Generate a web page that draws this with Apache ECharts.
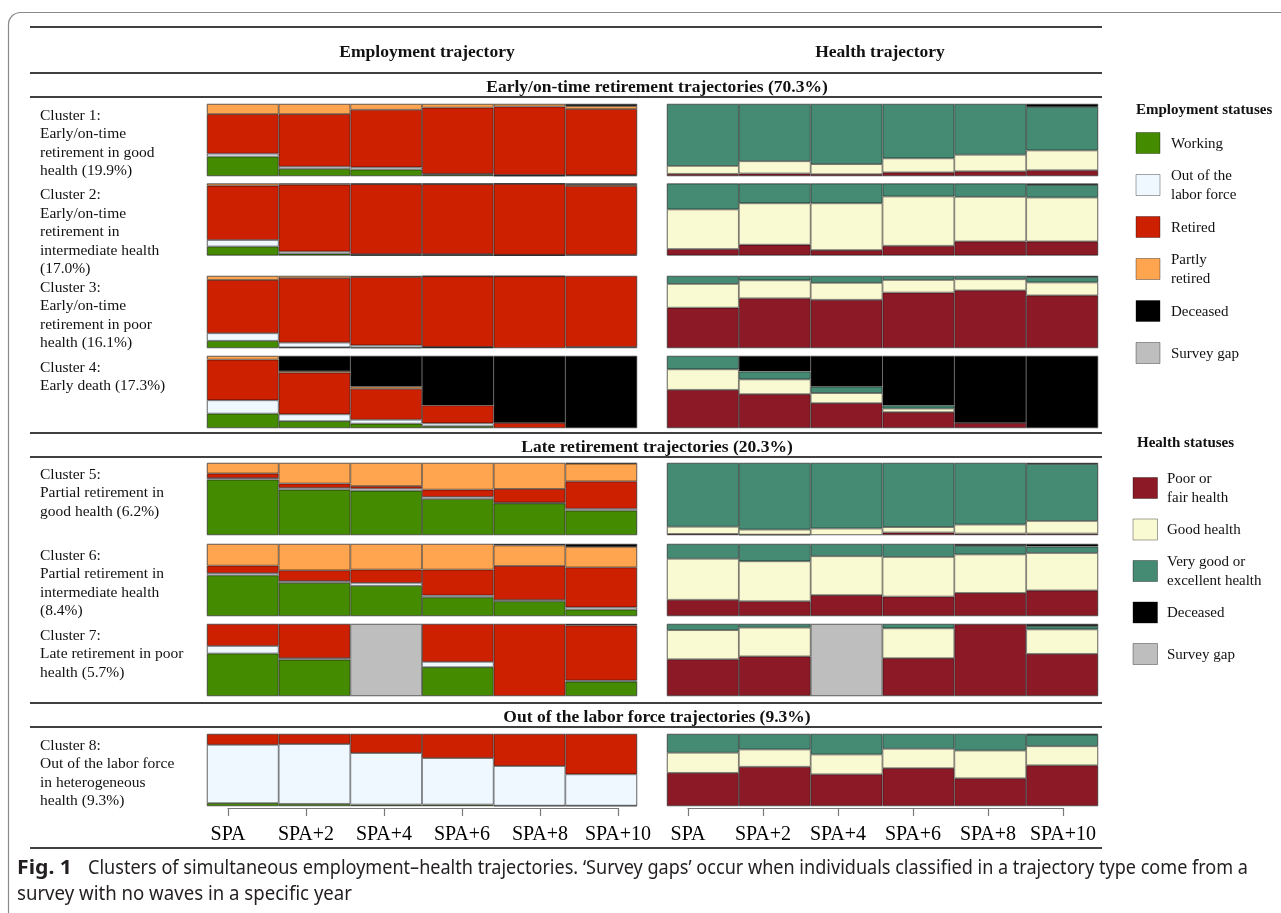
<!DOCTYPE html>
<html>
<head>
<meta charset="utf-8">
<script src="https://cdn.jsdelivr.net/npm/echarts@6/dist/echarts.min.js"></script>
<style>
  html, body { margin: 0; padding: 0; background: #fff; }
  #chart { width: 1281px; height: 913px; }
</style>
</head>
<body>
<div id="chart"></div>
<script>
// ---- Tick labels and texts ----
const timeLabels = ['SPA', 'SPA+2', 'SPA+4', 'SPA+6', 'SPA+8', 'SPA+10'];
const clusterLabels = [
  'Cluster 1:\nEarly/on-time\nretirement in good\nhealth (19.9%)',
  'Cluster 2:\nEarly/on-time\nretirement in\nintermediate health\n(17.0%)',
  'Cluster 3:\nEarly/on-time\nretirement in poor\nhealth (16.1%)',
  'Cluster 4:\nEarly death (17.3%)',
  'Cluster 5:\nPartial retirement in\ngood health (6.2%)',
  'Cluster 6:\nPartial retirement in\nintermediate health\n(8.4%)',
  'Cluster 7:\nLate retirement in poor\nhealth (5.7%)',
  'Cluster 8:\nOut of the labor force\nin heterogeneous\nhealth (9.3%)'
];
const sectionTitles = [
  'Early/on-time retirement trajectories (70.3%)',
  'Late retirement trajectories (20.3%)',
  'Out of the labor force trajectories (9.3%)'
];
const panelTitles = ['Employment trajectory', 'Health trajectory'];
const captionLead = 'Fig. 1';
const captionLine1 = 'Clusters of simultaneous employment\u2013health trajectories. \u2018Survey gaps\u2019 occur when individuals classified in a trajectory type come from a';
const captionLine2 = 'survey with no waves in a specific year';

// ---- Employment status shares (%), one row per cluster, one value per time point ----
const empWorking = [
  [27, 10, 9, 2, 0.5, 0],
  [12.5, 2.5, 0.5, 0.5, 0.5, 0],
  [10, 1, 0.5, 1, 0, 0],
  [20, 9.5, 6, 2.5, 0, 0],
  [77, 63, 61.5, 50, 44, 34],
  [56.5, 46, 42, 26, 20.5, 9],
  [59, 50.5, 0, 40, 0, 20],
  [4, 3, 2, 2, 0.5, 0.5]
];
const empOutLF = [
  [4, 3, 3, 1, 1, 1],
  [9, 3, 1.5, 1.5, 0.5, 1],
  [10.5, 6.5, 3, 0.5, 0, 1.5],
  [18.5, 9.5, 5.5, 4, 0, 0],
  [2, 2.5, 3, 3, 1, 2.5],
  [3, 2.5, 4, 2.5, 2, 3],
  [10.5, 2, 0, 7.5, 0, 1.5],
  [81, 83, 71.5, 64.5, 55, 43.5]
];
const empRetired = [
  [55, 73, 80, 92, 95, 92],
  [75.5, 93, 97, 97, 98.5, 95.5],
  [74, 89.5, 95, 98, 99.5, 98.5],
  [56.5, 58, 43, 25, 7, 0],
  [6.5, 6, 3.5, 10, 19, 38],
  [10.5, 15, 18.5, 36, 47, 55.5],
  [30.5, 47.5, 0, 52.5, 100, 76.5],
  [15, 14, 26.5, 33.5, 44.5, 56]
];
const empPartly = [
  [14, 14, 8, 5, 3.5, 4],
  [3, 1.5, 1, 1, 0.5, 2],
  [5.5, 3, 1.5, 0.5, 0.5, 0],
  [5, 2, 3, 0, 0, 0],
  [14.5, 28.5, 32, 37, 36, 24.5],
  [30, 36.5, 35.5, 35.5, 28.5, 28.5],
  [0, 0, 0, 0, 0, 0],
  [0, 0, 0, 0, 0, 0]
];
const empDeceased = [
  [0, 0, 0, 0, 0, 3],
  [0, 0, 0, 0, 0, 1.5],
  [0, 0, 0, 0, 0, 0],
  [0, 21, 42.5, 68.5, 93, 100],
  [0, 0, 0, 0, 0, 1],
  [0, 0, 0, 0, 2, 4],
  [0, 0, 0, 0, 0, 2],
  [0, 0, 0, 0, 0, 0]
];
const empGap = [
  [0, 0, 0, 0, 0, 0],
  [0, 0, 0, 0, 0, 0],
  [0, 0, 0, 0, 0, 0],
  [0, 0, 0, 0, 0, 0],
  [0, 0, 0, 0, 0, 0],
  [0, 0, 0, 0, 0, 0],
  [0, 0, 100, 0, 0, 0],
  [0, 0, 0, 0, 0, 0]
];

// ---- Health status shares (%) ----
const hlPoor = [
  [3, 3.5, 2.5, 5, 6.5, 8],
  [9, 15, 7.5, 13.5, 19.5, 19.5],
  [56, 69, 67, 77, 80, 73],
  [53, 47, 34.5, 22, 7, 0],
  [1.5, 0.5, 0, 3.5, 2, 2],
  [22.5, 20.5, 29, 27, 32, 35.5],
  [51, 55, 0, 52.5, 100, 58.5],
  [46, 54.5, 44, 52.5, 38.5, 56.5]
];
const hlGood = [
  [11, 17, 14, 19.5, 23, 27.5],
  [55, 57.5, 65, 68.5, 62, 61],
  [33, 25, 23.5, 17.5, 15.5, 18],
  [28.5, 20.5, 14, 5, 0, 0],
  [10, 7, 9, 7.5, 12.5, 17.5],
  [57, 55.5, 54, 55, 53.5, 52],
  [40.5, 40, 0, 41.5, 0, 34],
  [28, 24, 27.5, 27, 38.5, 26.5]
];
const hlVeryGood = [
  [86, 79.5, 83.5, 75.5, 70.5, 60.5],
  [36, 27.5, 27.5, 18, 18.5, 17.5],
  [11, 6, 9.5, 5.5, 4.5, 7.5],
  [18.5, 11, 9, 4.5, 0, 0],
  [88.5, 92.5, 91, 89, 85.5, 79],
  [20.5, 24, 17, 18, 12, 9],
  [8.5, 5, 0, 6, 0, 4.5],
  [26, 21.5, 28.5, 20.5, 23, 16]
];
const hlDeceased = [
  [0, 0, 0, 0, 0, 4],
  [0, 0, 0, 0, 0, 2],
  [0, 0, 0, 0, 0, 1.5],
  [0, 21.5, 42.5, 68.5, 93, 100],
  [0, 0, 0, 0, 0, 1.5],
  [0, 0, 0, 0, 2.5, 3.5],
  [0, 0, 0, 0, 0, 3],
  [0, 0, 0, 0, 0, 1]
];
const hlGap = [
  [0, 0, 0, 0, 0, 0],
  [0, 0, 0, 0, 0, 0],
  [0, 0, 0, 0, 0, 0],
  [0, 0, 0, 0, 0, 0],
  [0, 0, 0, 0, 0, 0],
  [0, 0, 0, 0, 0, 0],
  [0, 0, 100, 0, 0, 0],
  [0, 0, 0, 0, 0, 0]
];

// ---- Status names and colours ----
const empStatuses = ['Working', 'Out of the\nlabor force', 'Retired', 'Partly\nretired', 'Deceased', 'Survey gap'];
const empColors = ['#458B00', '#F0F8FF', '#CD2000', '#FFA54F', '#000000', '#BEBEBE'];
const empSeriesData = [empWorking, empOutLF, empRetired, empPartly, empDeceased, empGap];

const hlStatuses = ['Poor or\nfair health', 'Good health', 'Very good or\nexcellent health', 'Deceased', 'Survey gap'];
const hlColors = ['#8B1A26', '#FAFAD2', '#458B74', '#000000', '#BEBEBE'];
const hlSeriesData = [hlPoor, hlGood, hlVeryGood, hlDeceased, hlGap];

// ---- Layout ----
const rowTops = [104, 183.5, 276, 356, 463, 544, 624, 734];
const rowH = 72;
const panelLeft = [207, 667];
const panelWidth = [430, 431];
const serif = '"Liberation Serif", "Times New Roman", serif';

const grids = [], xAxes = [], yAxes = [], series = [];

function addPanel(row, panel, statuses, colors, dataSets) {
  const gi = grids.length;
  grids.push({
    left: panelLeft[panel], top: rowTops[row], width: panelWidth[panel], height: rowH,
    show: true, borderColor: '#c4c4c4', borderWidth: 1, backgroundColor: 'transparent'
  });
  xAxes.push({ type: 'category', gridIndex: gi, data: timeLabels, show: false });
  yAxes.push({ type: 'value', gridIndex: gi, min: 0, max: 100, show: false });
  statuses.forEach((name, k) => {
    series.push({
      type: 'bar',
      name: name,
      xAxisIndex: gi, yAxisIndex: gi,
      stack: 'p' + gi,
      barCategoryGap: '0%',
      silent: true,
      data: dataSets[k][row].map(v => (v === 0 ? '-' : v)),
      itemStyle: { color: colors[k], borderColor: 'rgba(0,0,0,0.6)', borderWidth: 0.8 }
    });
  });
}

for (let r = 0; r < rowTops.length; r++) {
  addPanel(r, 0, empStatuses, empColors, empSeriesData);
  addPanel(r, 1, hlStatuses, hlColors, hlSeriesData);
}

// Time axes under the last row
const axisSpans = [[228, 390], [688, 375]];
axisSpans.forEach(([left, width]) => {
  const gi = grids.length;
  grids.push({ left: left, top: 807, width: width, height: 1 });
  xAxes.push({
    type: 'category', gridIndex: gi, data: timeLabels, boundaryGap: false,
    axisLine: { show: true, lineStyle: { color: '#7a7a7a', width: 1.2 } },
    axisTick: { show: true, length: 8, lineStyle: { color: '#7a7a7a', width: 1.2 } },
    axisLabel: { show: true, margin: 17, color: '#000', fontSize: 20, fontFamily: serif, interval: 0 }
  });
  yAxes.push({ type: 'value', gridIndex: gi, show: false });
  series.push({ type: 'line', xAxisIndex: gi, yAxisIndex: gi, data: [], silent: true });
});

// ---- Decorations: frame, rules, titles, labels, legends, caption ----
const graphics = [];
graphics.push({
  type: 'rect', z: 0,
  shape: { x: 8.5, y: 12.5, width: 1400, height: 1000, r: 12 },
  style: { fill: 'none', stroke: '#8a8a8a', lineWidth: 1.2 }
});
const ruleYs = [27, 73, 97, 433, 457, 703, 727, 848];
ruleYs.forEach(y => graphics.push({
  type: 'line', z: 10,
  shape: { x1: 30, y1: y, x2: 1102, y2: y },
  style: { stroke: '#000', lineWidth: 1.5 }
}));

function text(str, x, y, font, opts) {
  return {
    type: 'text', z: 20,
    style: Object.assign({
      text: str, x: x, y: y, font: font, fill: '#111',
      textAlign: 'left', textVerticalAlign: 'middle'
    }, opts || {})
  };
}
const boldHead = 'bold 17.5px ' + serif;
graphics.push(text(panelTitles[0], 427, 52, boldHead, { textAlign: 'center' }));
graphics.push(text(panelTitles[1], 880, 52, boldHead, { textAlign: 'center' }));
const sectionYs = [87, 447, 717];
sectionTitles.forEach((t, i) => graphics.push(text(t, 657, sectionYs[i], boldHead, { textAlign: 'center' })));

clusterLabels.forEach((t, i) => graphics.push(text(t, 40, rowTops[i] + 2.2, '15.5px ' + serif,
  { textVerticalAlign: 'top', lineHeight: 18.6 })));

// Legends
function legend(title, titleX, titleY, names, colors, swX, swW, textX, startY, step) {
  graphics.push(text(title, titleX, titleY, 'bold 15px ' + serif));
  names.forEach((n, i) => {
    const cy = startY + i * step;
    graphics.push({
      type: 'rect', z: 20,
      shape: { x: swX, y: cy - 10.5, width: swW, height: 21 },
      style: { fill: colors[i], stroke: 'rgba(0,0,0,0.35)', lineWidth: 1 }
    });
    graphics.push(text(n, textX, cy + 1, '15px ' + serif, { lineHeight: 19 }));
  });
}
legend('Employment statuses', 1136, 110, empStatuses, empColors, 1136, 24, 1171, 143, 42);
legend('Health statuses', 1137, 443, hlStatuses, hlColors, 1133, 24.5, 1167, 488, 41.5);

// Caption: a condensed look, obtained by squeezing a regular sans face to a set width
const capFamily = '"Noto Sans", "Open Sans", sans-serif';
const measureCtx = document.createElement('canvas').getContext('2d');
function squeezedText(str, x, y, font, targetWidth) {
  measureCtx.font = font;
  const w = measureCtx.measureText(str).width;
  return {
    type: 'text', z: 20, x: x, y: y, scaleX: targetWidth / w, scaleY: 1,
    style: { text: str, x: 0, y: 0, font: font, fill: '#231f20', textAlign: 'left', textVerticalAlign: 'middle' }
  };
}
graphics.push(squeezedText(captionLead, 17, 869, 'bold 19px ' + capFamily, 55));
graphics.push(squeezedText(captionLine1, 88, 869, '19px ' + capFamily, 1160));
graphics.push(squeezedText(captionLine2, 17, 895, '19px ' + capFamily, 335));

const chart = echarts.init(document.getElementById('chart'), null, { renderer: 'canvas' });
chart.setOption({
  backgroundColor: '#ffffff',
  animation: false,
  grid: grids,
  xAxis: xAxes,
  yAxis: yAxes,
  series: series,
  graphic: { elements: graphics }
});
</script>
</body>
</html>
